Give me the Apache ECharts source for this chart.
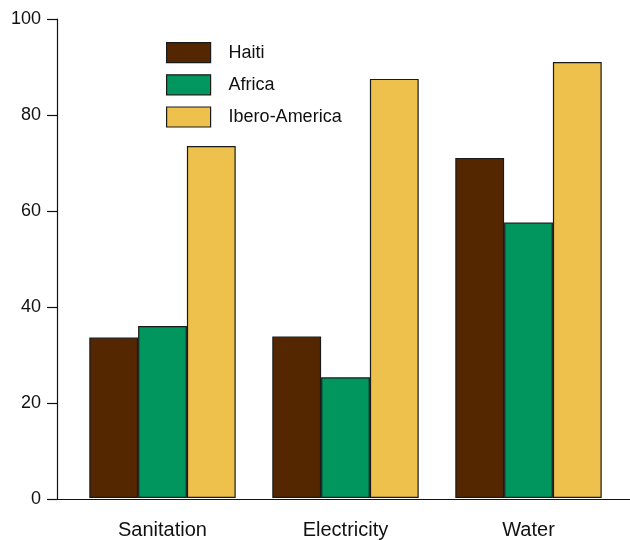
<!DOCTYPE html>
<html>
<head>
<meta charset="utf-8">
<script src="https://cdn.jsdelivr.net/npm/echarts@6/dist/echarts.min.js"></script>
<style>html,body{margin:0;padding:0;background:#fff}#c{width:630px;height:540px}</style>
</head>
<body>
<div id="c"></div>
<script>
var categories = ['Sanitation', 'Electricity', 'Water'];
var haiti = [33.5, 33.7, 71];
var africa = [35.9, 25.2, 57.5];
var ibero = [73.5, 87.5, 91];
var yTicks = [0, 20, 40, 60, 80, 100];

var font = 'Liberation Sans, Arial, Helvetica, sans-serif';
var chart = echarts.init(document.getElementById('c'), null, {renderer: 'canvas'});
function bar(name, data, color) {
  return {
    name: name, type: 'bar', data: data, xAxisIndex: 0, yAxisIndex: 0,
    barGap: '0%', barCategoryGap: '20%',
    itemStyle: {color: color, borderColor: '#1a1a1a', borderWidth: 1.2},
    emphasis: {disabled: true}
  };
}
chart.setOption({
  animation: false,
  backgroundColor: '#fff',
  textStyle: {fontFamily: font},
  legend: {
    orient: 'vertical', left: 161, top: 37,
    itemWidth: 44, itemHeight: 20, itemGap: 11,
    icon: 'rect',
    itemStyle: {borderWidth: 1.2, borderColor: '#1a1a1a'},
    textStyle: {fontSize: 18, color: '#111', fontFamily: font, padding: [0, 0, 0, 13]},
    data: ['Haiti', 'Africa', 'Ibero-America']
  },
  grid: [
    {left: 71, right: 10, top: 19, bottom: 41},
    {left: 57, right: 0, top: 19, bottom: 41}
  ],
  xAxis: [
    {type: 'category', gridIndex: 0, data: categories,
     axisLine: {show: false}, axisTick: {show: false},
     axisLabel: {fontSize: 20, color: '#111', margin: 22, fontFamily: font}},
    {type: 'value', gridIndex: 1, min: 0, max: 1,
     axisLine: {show: true, lineStyle: {color: '#111', width: 1.2}},
     axisTick: {show: false}, axisLabel: {show: false}, splitLine: {show: false}}
  ],
  yAxis: [
    {type: 'value', gridIndex: 0, min: 0, max: 100, interval: 20,
     axisLine: {show: false}, axisTick: {show: false}, axisLabel: {show: false}, splitLine: {show: false}},
    {type: 'value', gridIndex: 1, min: yTicks[0], max: yTicks[yTicks.length - 1], interval: 20,
     axisLine: {show: true, lineStyle: {color: '#111', width: 1.2}},
     axisTick: {show: true, length: 10, lineStyle: {color: '#111', width: 1.2}},
     axisLabel: {fontSize: 18, color: '#111', margin: 16, fontFamily: font},
     splitLine: {show: false}}
  ],
  series: [
    bar('Haiti', haiti, '#552700'),
    bar('Africa', africa, '#00965E'),
    bar('Ibero-America', ibero, '#EEC04C')
  ]
});
</script>
</body>
</html>
